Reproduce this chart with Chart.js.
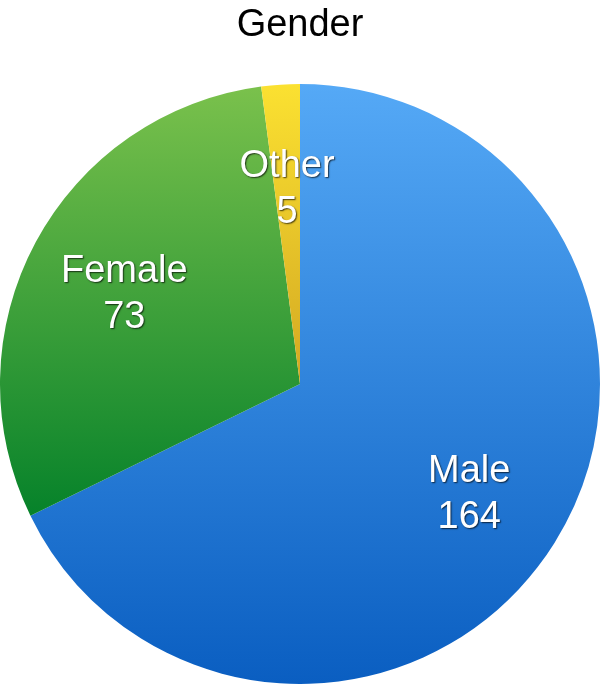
<!DOCTYPE html>
<html>
<head>
    <meta charset='UTF-8'>
    <title>Gender</title>
    <style>
        html, body { margin: 0; padding: 0; background: #fff; }
        #chart-container { width: 600px; height: 684px; }
    </style>
</head>
<body>
    <script src="https://cdn.jsdelivr.net/npm/chart.js@4/dist/chart.umd.min.js"></script>
    <div id="chart-container">
        <canvas id="chart" width="600" height="684"></canvas>
    </div>

    <script>
        // data
        let categories = ["Male", "Female", "Other"];
        let counts = [164, 73, 5];
        // top / bottom colour of each slice's vertical gradient
        let topColors = ["#55a9f6", "#7ac14c", "#fbe131"];
        let bottomColors = ["#0a5ec1", "#06822a", "#d3a822"];

        // vertical gradient stretched over the slice's own height
        function sliceGradient(ctx) {
            let chart = ctx.chart;
            let area = chart.chartArea;
            if (!area) return topColors[ctx.dataIndex];
            let cx = (area.left + area.right) / 2;
            let cy = (area.top + area.bottom) / 2;
            let r = Math.min(area.right - area.left, area.bottom - area.top) / 2;
            let total = counts.reduce((a, b) => a + b, 0);
            let before = 0;
            for (let i = 0; i < ctx.dataIndex; i++) before += counts[i];
            let a0 = -Math.PI / 2 + before / total * 2 * Math.PI;
            let a1 = a0 + counts[ctx.dataIndex] / total * 2 * Math.PI;
            let ys = [cy, cy + r * Math.sin(a0), cy + r * Math.sin(a1)];
            // include top / bottom of the circle if the arc passes them
            [-Math.PI / 2, Math.PI / 2, 3 * Math.PI / 2].forEach(function (a) {
                if (a >= a0 && a <= a1) ys.push(cy + r * Math.sin(a));
            });
            let g = chart.ctx.createLinearGradient(0, Math.min(...ys), 0, Math.max(...ys));
            g.addColorStop(0, topColors[ctx.dataIndex]);
            g.addColorStop(1, bottomColors[ctx.dataIndex]);
            return g;
        }

        // label + value written inside each slice
        let sliceLabels = {
            id: "sliceLabels",
            afterDatasetsDraw(chart) {
                let c = chart.ctx;
                let meta = chart.getDatasetMeta(0);
                c.save();
                c.font = "38px 'Liberation Sans', Arial, sans-serif";
                c.textAlign = "center";
                c.textBaseline = "middle";
                c.fillStyle = "#fff";
                c.shadowColor = "rgba(0,0,0,0.7)";
                c.shadowOffsetX = 1;
                c.shadowOffsetY = 1;
                c.shadowBlur = 1.5;
                meta.data.forEach(function (arc, i) {
                    let p = arc.getProps(["x", "y", "startAngle", "endAngle", "outerRadius"], true);
                    let mid = (p.startAngle + p.endAngle) / 2;
                    let d = p.outerRadius * 0.665;
                    let x = p.x + Math.cos(mid) * d;
                    let y = p.y + Math.sin(mid) * d + 5;
                    c.fillText(categories[i], x, y - 23);
                    c.fillText(String(counts[i]), x, y + 23);
                });
                c.restore();
            }
        };

        let context = document.getElementById("chart").getContext("2d");
        let chart = new Chart(context, {
            type: "pie",
            data: {
                labels: categories,
                datasets: [{
                    data: counts,
                    backgroundColor: sliceGradient,
                    borderWidth: 0
                }]
            },
            options: {
                responsive: false,
                animation: false,
                layout: { padding: 0 },
                plugins: {
                    legend: { display: false },
                    tooltip: { enabled: false },
                    title: {
                        display: true,
                        text: "Gender",
                        color: "#000",
                        font: { size: 38, weight: "normal", family: "'Liberation Sans', Arial, sans-serif", lineHeight: 1.2 },
                        padding: { top: 3, bottom: 35.4 }
                    }
                }
            },
            plugins: [sliceLabels]
        });
    </script>
</body>
</html>
